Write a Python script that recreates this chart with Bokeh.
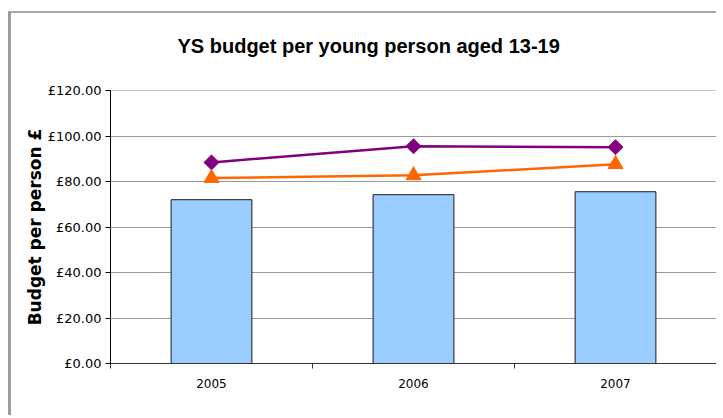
import math
from bokeh.plotting import figure
from bokeh.models import FixedTicker, PrintfTickFormatter, Range1d, ColumnDataSource, Title
from bokeh.embed import file_html
from bokeh.resources import INLINE

# ---- data ----
chart_title = "YS budget per young person aged 13-19"
years = ["2005", "2006", "2007"]
budget_per_person = [72.0, 74.2, 75.5]
purple_series = [88.4, 95.5, 95.1]
orange_series = [81.5, 82.7, 87.6]
y_ticks = [0, 20, 40, 60, 80, 100, 120]

xs = [i + 0.5 for i in range(len(years))]
src = ColumnDataSource(dict(x=xs, year=years, budget=budget_per_person,
                            purple=purple_series, orange=orange_series))

p = figure(width=708, height=404, output_backend="svg", toolbar_location=None,
           x_range=Range1d(0, len(years)), y_range=Range1d(0, y_ticks[-1]),
           min_border_left=99, min_border_right=3, min_border_top=77,
           min_border_bottom=54, title=None)
p.styles = {"border-left": "3px solid #9c9c9c", "border-top": "2px solid #a8a8a8",
            "margin-top": "11px", "margin-left": "8px"}

# blank spacer between the frame and the title, then the title itself
spacer = Title(text=" ", text_font_size="10px", standoff=16)
p.add_layout(spacer, "above")
main_title = Title(text=chart_title, text_font="Liberation Sans",
                   text_font_style="bold", text_font_size="20px",
                   text_color="black", align="left", offset=67, standoff=10)
p.add_layout(main_title, "above")

# frame / grid
p.background_fill_color = "white"
p.border_fill_color = "white"
p.outline_line_color = "#c8c8c8"
p.xgrid.visible = False
p.ygrid.ticker = FixedTicker(ticks=y_ticks)
p.ygrid.grid_line_color = "#999999"
p.ygrid.grid_line_width = 1

# y axis
p.yaxis.ticker = FixedTicker(ticks=y_ticks)
p.yaxis.formatter = PrintfTickFormatter(format="£%.2f")
p.yaxis.axis_label = "Budget per person £"
p.yaxis.axis_label_text_font = "DejaVu Sans"
p.yaxis.axis_label_text_font_style = "bold"
p.yaxis.axis_label_text_font_size = "17px"
p.yaxis.axis_label_text_color = "black"
p.yaxis.axis_label_standoff = 0
p.yaxis.major_label_text_font = "DejaVu Sans"
p.yaxis.major_label_text_font_size = "13px"
p.yaxis.major_label_text_color = "black"
p.yaxis.major_label_standoff = 4
p.yaxis.major_tick_out = 5
p.yaxis.major_tick_in = 0
p.yaxis.minor_tick_line_color = None
p.yaxis.axis_line_color = "black"
p.yaxis.major_tick_line_color = "black"

# x axis (labels at category centres, ticks at boundaries)
p.xaxis.ticker = FixedTicker(ticks=xs, minor_ticks=list(range(len(years) + 1)))
p.xaxis.major_label_overrides = {x: y for x, y in zip(xs, years)}
p.xaxis.major_label_text_font = "DejaVu Sans"
p.xaxis.major_label_text_font_size = "12px"
p.xaxis.major_label_text_color = "black"
p.xaxis.major_label_standoff = 10
p.xaxis.major_tick_out = 0
p.xaxis.major_tick_in = 0
p.xaxis.minor_tick_out = 5
p.xaxis.minor_tick_in = 0
p.xaxis.minor_tick_line_color = "#333333"
p.xaxis.axis_line_color = "#333333"

# bars
p.vbar(x="x", top="budget", width=0.4, source=src,
       fill_color="#99CCFF", line_color="#1a1a1a", line_width=1)

# purple series
p.line("x", "purple", source=src, line_color="#800080", line_width=2.5)
p.scatter("x", "purple", source=src, marker="square", size=10.6, angle=math.pi / 4,
          fill_color="#800080", line_color="#800080")

# orange series
p.line("x", "orange", source=src, line_color="#FF6600", line_width=2.5)
p.scatter("x", "orange", source=src, marker="triangle", size=15,
          fill_color="#FF6600", line_color="#FF6600")

open("out.html", "w").write(file_html(p, INLINE))
